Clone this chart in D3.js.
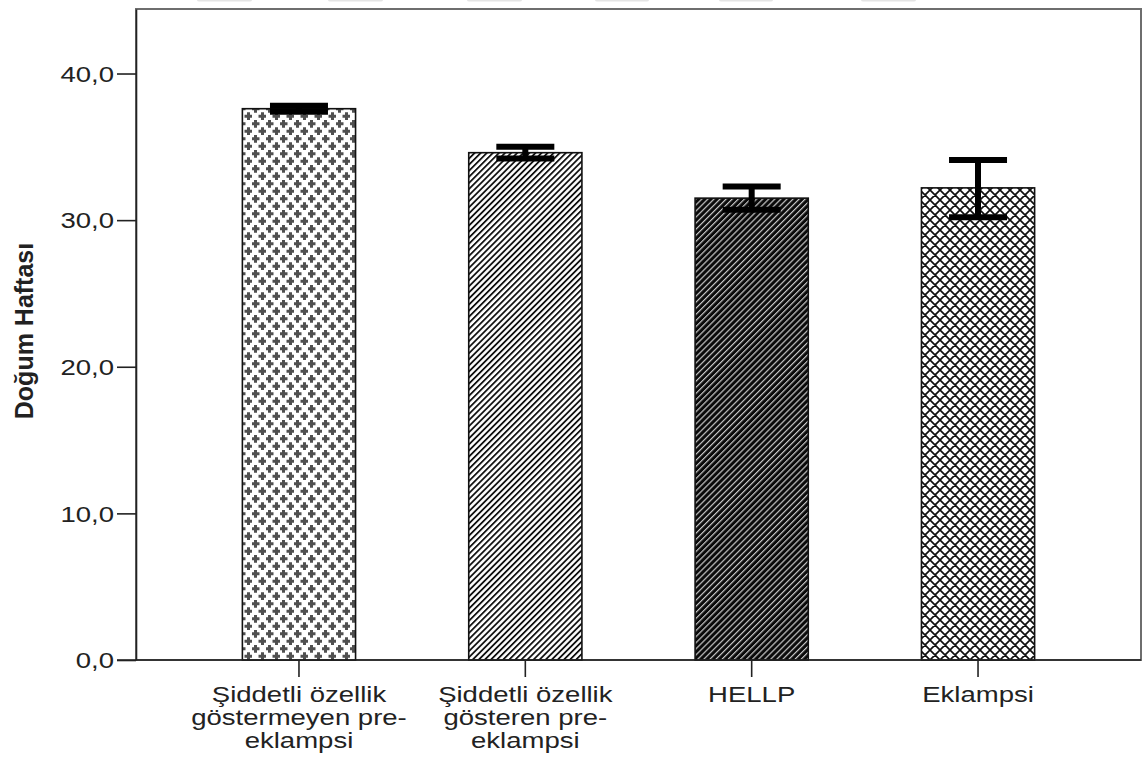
<!DOCTYPE html>
<html>
<head>
<meta charset="utf-8">
<script src="https://cdn.jsdelivr.net/npm/d3@7"></script>
<style>
  html, body { margin: 0; padding: 0; background: #fff; }
  svg { display: block; }
  text { font-family: "Liberation Sans", Arial, sans-serif; fill: #222; }
</style>
</head>
<body>
<svg id="chart" width="1144" height="765"></svg>
<script>
// Delivery week by pre-eclampsia group: mean with error bars
const categories = [
  "Şiddetli özellik göstermeyen pre-eklampsi",
  "Şiddetli özellik gösteren pre-eklampsi",
  "HELLP",
  "Eklampsi"
];
const categoryLines = [
  ["Şiddetli özellik", "göstermeyen pre-", "eklampsi"],
  ["Şiddetli özellik", "gösteren pre-", "eklampsi"],
  ["HELLP"],
  ["Eklampsi"]
];
const meanWeek = [37.6, 34.6, 31.5, 32.2];
const lowerWeek = [37.4, 34.2, 30.7, 30.2];
const upperWeek = [37.8, 35.0, 32.3, 34.1];
const yTicks = [0, 10, 20, 30, 40];
const yTitle = "Doğum Haftası";
const fillIds = ["pat-plus", "pat-hatch", "pat-dark", "pat-cross"];

const svg = d3.select("#chart");
const plotL = 136, plotR = 1141, plotT = 9, plotB = 660;
const textStretch = 1.28;

// ---------- fill patterns ----------
const defs = svg.append("defs");

// plus signs on an offset lattice
const pPlus = defs.append("pattern").attr("id", "pat-plus")
  .attr("patternUnits", "userSpaceOnUse").attr("width", 14).attr("height", 15);
pPlus.append("rect").attr("width", 14).attr("height", 15).attr("fill", "#fff");
[[3.5, 3.75], [10.5, 11.25]].forEach(([cx, cy]) => {
  pPlus.append("path")
    .attr("d", `M${cx - 4},${cy}H${cx + 4}M${cx},${cy - 4}V${cy + 4}`)
    .attr("stroke", "#505050").attr("stroke-width", 3);
});

// thin black diagonal hatch
const pHatch = defs.append("pattern").attr("id", "pat-hatch")
  .attr("patternUnits", "userSpaceOnUse").attr("width", 4.3).attr("height", 10)
  .attr("patternTransform", "rotate(45)");
pHatch.append("rect").attr("width", 4.3).attr("height", 10).attr("fill", "#fff");
pHatch.append("rect").attr("width", 1.8).attr("height", 10).attr("fill", "#111");

// dark diagonal hatch (light lines on black)
const pDark = defs.append("pattern").attr("id", "pat-dark")
  .attr("patternUnits", "userSpaceOnUse").attr("width", 4.3).attr("height", 10)
  .attr("patternTransform", "rotate(45)");
pDark.append("rect").attr("width", 4.3).attr("height", 10).attr("fill", "#0a0a0a");
pDark.append("rect").attr("width", 1.2).attr("height", 10).attr("fill", "#c8c8c8");

// diamond crosshatch
const pCross = defs.append("pattern").attr("id", "pat-cross")
  .attr("patternUnits", "userSpaceOnUse").attr("width", 10).attr("height", 10);
pCross.append("rect").attr("width", 10).attr("height", 10).attr("fill", "#fff");
pCross.append("path")
  .attr("d", "M-1,-1L11,11M-1,11L11,-1M-1,9L1,11M9,-1L11,1M-1,1L1,-1M9,11L11,9")
  .attr("stroke", "#111").attr("stroke-width", 1.7);

// ---------- scales ----------
const x = d3.scaleBand().domain(categories).range([plotL, plotR])
  .paddingInner(0.5).paddingOuter(0.47);
const y = d3.scaleLinear().domain([0, 44.4]).range([plotB, plotT]);

// faint remnants along the top edge
[[197, 252], [328, 383], [467, 522], [595, 649], [719, 773], [861, 916]].forEach(([a, b]) => {
  svg.append("rect").attr("x", a).attr("y", -2).attr("width", b - a).attr("height", 3.5)
    .attr("rx", 2).attr("fill", "#e4e4e4");
});

// plot frame
svg.append("rect")
  .attr("x", plotL).attr("y", plotT)
  .attr("width", plotR - plotL).attr("height", plotB - plotT)
  .attr("fill", "#fff").attr("stroke", "#6e6e6e").attr("stroke-width", 2);

// ---------- bars ----------
svg.append("g").selectAll("rect").data(categories).join("rect")
  .attr("x", d => x(d))
  .attr("y", (d, i) => y(meanWeek[i]))
  .attr("width", x.bandwidth())
  .attr("height", (d, i) => y(0) - y(meanWeek[i]))
  .attr("fill", (d, i) => `url(#${fillIds[i]})`)
  .attr("stroke", "#111").attr("stroke-width", 1.6);

// ---------- error bars ----------
const capW = 58;
const eb = svg.append("g").attr("stroke", "#000").attr("stroke-width", 6);
categories.forEach((c, i) => {
  const cx = x(c) + x.bandwidth() / 2;
  eb.append("line").attr("x1", cx).attr("x2", cx)
    .attr("y1", y(upperWeek[i])).attr("y2", y(lowerWeek[i]));
  eb.append("line").attr("x1", cx - capW / 2).attr("x2", cx + capW / 2)
    .attr("y1", y(upperWeek[i])).attr("y2", y(upperWeek[i]));
  eb.append("line").attr("x1", cx - capW / 2).attr("x2", cx + capW / 2)
    .attr("y1", y(lowerWeek[i])).attr("y2", y(lowerWeek[i]));
});

// ---------- y axis ----------
const yAxis = svg.append("g").attr("transform", `translate(${plotL},0)`)
  .call(d3.axisLeft(y).tickValues(yTicks).tickSize(19).tickSizeOuter(0)
    .tickFormat(d => d3.format(".1f")(d).replace(".", ",")));
yAxis.select(".domain").attr("stroke", "#222").attr("stroke-width", 1.6);
yAxis.selectAll(".tick line").attr("stroke", "#222").attr("stroke-width", 1.6);
yAxis.selectAll(".tick text")
  .attr("x", 0).attr("dy", "0.36em")
  .attr("text-anchor", "end")
  .attr("transform", `translate(-22,0) scale(${textStretch},1)`)
  .style("font-size", "21.5px").style("font-family", "Liberation Sans, Arial, sans-serif")
  .attr("fill", "#222");

// ---------- x axis ----------
const xAxis = svg.append("g").attr("transform", `translate(0,${plotB})`)
  .call(d3.axisBottom(x).tickSize(17).tickSizeOuter(0).tickFormat(""));
xAxis.select(".domain").attr("stroke", "#222").attr("stroke-width", 1.6)
  .attr("d", `M${plotL - 19},0H${plotR}`);
xAxis.selectAll(".tick line").attr("stroke", "#222").attr("stroke-width", 1.6);

categories.forEach((c, i) => {
  const cx = x(c) + x.bandwidth() / 2;
  const t = svg.append("text")
    .attr("text-anchor", "middle")
    .attr("transform", `translate(${cx},0) scale(${textStretch},1)`)
    .style("font-size", "21.5px");
  categoryLines[i].forEach((line, k) => {
    t.append("tspan").attr("x", 0).attr("y", plotB + 42 + k * 23).text(line);
  });
});

// ---------- y title ----------
svg.append("text")
  .attr("transform", "translate(33,331) rotate(-90)")
  .attr("text-anchor", "middle")
  .style("font-size", "25px").style("font-weight", "bold")
  .attr("fill", "#000")
  .text(yTitle);
</script>
</body>
</html>
